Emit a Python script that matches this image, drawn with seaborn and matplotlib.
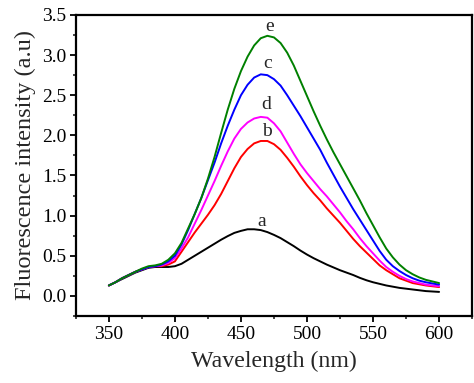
import numpy as np
import pandas as pd
import matplotlib
matplotlib.use("Agg")
import matplotlib.pyplot as plt
import seaborn as sns
from matplotlib.ticker import MultipleLocator, FormatStrFormatter

# wavelength grid (nm), 5 nm steps, curves
wavelength = list(range(350, 601, 5))

curve_a = [0.13, 0.17, 0.21, 0.25, 0.29, 0.32, 0.35, 0.36, 0.36, 0.36,
           0.37, 0.40, 0.45, 0.50, 0.55, 0.60, 0.65, 0.70, 0.745, 0.785,
           0.81, 0.83, 0.83, 0.82, 0.795, 0.76, 0.72, 0.67, 0.62, 0.565,
           0.515, 0.47, 0.43, 0.39, 0.355, 0.32, 0.29, 0.26, 0.225, 0.195,
           0.17, 0.15, 0.13, 0.115, 0.10, 0.09, 0.08, 0.07, 0.06, 0.055, 0.05]
curve_b = [0.13, 0.17, 0.22, 0.26, 0.30, 0.33, 0.36, 0.37, 0.37, 0.39,
           0.43, 0.55, 0.67, 0.79, 0.90, 1.01, 1.13, 1.27, 1.43, 1.59,
           1.73, 1.83, 1.90, 1.93, 1.93, 1.89, 1.82, 1.72, 1.61, 1.49,
           1.38, 1.28, 1.19, 1.09, 1.00, 0.91, 0.81, 0.71, 0.62, 0.54,
           0.46, 0.38, 0.32, 0.27, 0.22, 0.19, 0.16, 0.145, 0.13, 0.12, 0.11]
curve_d = [0.13, 0.17, 0.22, 0.26, 0.30, 0.33, 0.36, 0.37, 0.38, 0.41,
           0.47, 0.59, 0.73, 0.90, 1.07, 1.25, 1.43, 1.62, 1.80, 1.96,
           2.08, 2.16, 2.21, 2.23, 2.22, 2.15, 2.05, 1.91, 1.77, 1.64,
           1.53, 1.43, 1.33, 1.24, 1.14, 1.04, 0.93, 0.83, 0.72, 0.62,
           0.53, 0.44, 0.36, 0.30, 0.25, 0.21, 0.18, 0.16, 0.14, 0.13, 0.12]
curve_c = [0.13, 0.17, 0.22, 0.26, 0.30, 0.33, 0.36, 0.37, 0.39, 0.43,
           0.50, 0.64, 0.82, 1.02, 1.22, 1.44, 1.66, 1.90, 2.12, 2.32,
           2.50, 2.63, 2.72, 2.76, 2.75, 2.70, 2.62, 2.50, 2.37, 2.24,
           2.10, 1.96, 1.82, 1.66, 1.51, 1.36, 1.22, 1.08, 0.95, 0.82,
           0.69, 0.56, 0.45, 0.37, 0.31, 0.26, 0.22, 0.19, 0.17, 0.155, 0.14]
curve_e = [0.13, 0.17, 0.22, 0.26, 0.30, 0.34, 0.37, 0.38, 0.40, 0.45,
           0.53, 0.66, 0.84, 1.02, 1.22, 1.46, 1.73, 2.03, 2.32, 2.58,
           2.80, 2.98, 3.12, 3.21, 3.24, 3.22, 3.15, 3.03, 2.87, 2.68,
           2.49, 2.30, 2.12, 1.95, 1.79, 1.64, 1.49, 1.34, 1.19, 1.03,
           0.88, 0.73, 0.59, 0.48, 0.39, 0.32, 0.27, 0.23, 0.20, 0.18, 0.16]

labels = ["a", "b", "d", "c", "e"]
colors = ["black", "#ff0000", "#ff00ff", "#0000ff", "#008000"]
label_x = [466, 470, 469, 470, 472]
label_y = [0.93, 2.05, 2.39, 2.89, 3.36]

series = [curve_a, curve_b, curve_d, curve_c, curve_e]
df = pd.concat(
    [pd.DataFrame({"wl": wavelength, "val": s, "curve": lab}) for s, lab in zip(series, labels)],
    ignore_index=True,
)

sns.set_style("ticks")
plt.rcParams["font.family"] = ["Liberation Serif", "DejaVu Serif"]

fig = plt.figure(figsize=(4.74, 3.83), dpi=100)
ax = fig.add_axes([0.160, 0.175, 0.836, 0.786])

sns.lineplot(data=df, x="wl", y="val", hue="curve", palette=dict(zip(labels, colors)),
             linewidth=1.4, legend=False, ax=ax)

# curve letters
for lab, lx, ly in zip(labels, label_x, label_y):
    ax.text(lx, ly, lab, fontsize=14, ha="center", va="center")

ax.set_xlim(325, 625)
ax.set_ylim(-0.25, 3.5)
ax.xaxis.set_major_locator(MultipleLocator(50))
ax.xaxis.set_minor_locator(MultipleLocator(25))
ax.yaxis.set_major_locator(MultipleLocator(0.5))
ax.yaxis.set_minor_locator(MultipleLocator(0.25))
ax.set_xticks(range(350, 601, 50))
ax.yaxis.set_major_formatter(FormatStrFormatter("%.1f"))

ax.tick_params(which="major", direction="out", length=4, width=1.3, labelsize=14, colors="black", pad=3)
ax.tick_params(which="minor", direction="out", length=2.5, width=1.2)
for sp in ax.spines.values():
    sp.set_linewidth(1.6)
    sp.set_color("black")

ax.set_xlabel("Wavelength (nm)", fontsize=17.2, labelpad=6)
ax.set_ylabel("Fluorescence intensity (a.u)", fontsize=17.5, labelpad=4)

fig.savefig("out.png", dpi=100)
